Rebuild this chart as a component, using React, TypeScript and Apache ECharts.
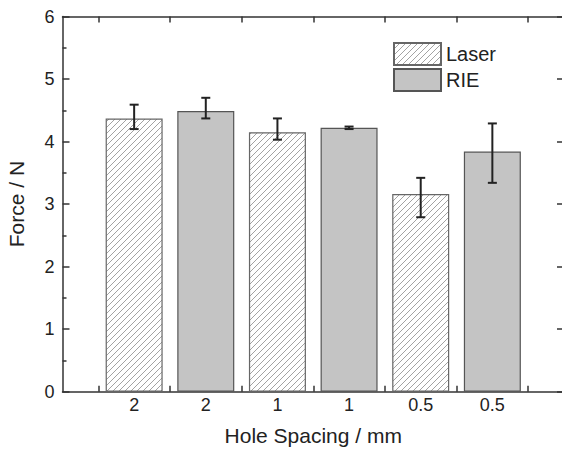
import React, { useEffect, useRef } from "react";
import * as echarts from "echarts";

const categories = ["2", "2", "1", "1", "0.5", "0.5"];
const laserValues = [4.37, 4.15, 3.16];
const laserErrLow = [4.2, 4.03, 2.79];
const laserErrHigh = [4.59, 4.37, 3.42];
const rieValues = [4.49, 4.22, 3.84];
const rieErrLow = [4.37, 4.2, 3.34];
const rieErrHigh = [4.7, 4.24, 4.29];
const yTicks = [0, 1, 2, 3, 4, 5, 6];

const FONT = "'Liberation Sans', Arial, sans-serif";

function makeHatch(): HTMLCanvasElement {
  const c = document.createElement("canvas");
  const s = 6;
  c.width = s;
  c.height = s;
  const ctx = c.getContext("2d")!;
  ctx.fillStyle = "#ffffff";
  ctx.fillRect(0, 0, s, s);
  ctx.strokeStyle = "#999999";
  ctx.lineWidth = 0.9;
  ctx.beginPath();
  ctx.moveTo(-1, s + 1);
  ctx.lineTo(s + 1, -1);
  ctx.moveTo(-1, 1);
  ctx.lineTo(1, -1);
  ctx.moveTo(s - 1, s + 1);
  ctx.lineTo(s + 1, s - 1);
  ctx.stroke();
  return c;
}

export default function App() {
  const ref = useRef<HTMLDivElement>(null);
  useEffect(() => {
    document.body.style.margin = "0";
    if (!ref.current) return;
    const chart = echarts.init(ref.current, null, { renderer: "svg" });
    const hatch = { image: makeHatch(), repeat: "repeat" } as any;

    const laserData = laserValues.map((v, i) => [2 * i + 1, v]);
    const rieData = rieValues.map((v, i) => [2 * i + 2, v]);
    const errData: number[][] = [];
    laserValues.forEach((_, i) => {
      errData.push([2 * i + 1, laserErrLow[i], laserErrHigh[i]]);
      errData.push([2 * i + 2, rieErrLow[i], rieErrHigh[i]]);
    });
    const tickPositions = categories.map((_, i) => i + 0.5).concat([categories.length + 0.5]);
    const labelPositions = categories.map((_, i) => i + 1);

    const axisLine = { show: true, onZero: false, lineStyle: { color: "#333", width: 1.5 } };
    const tickStyle = { color: "#333", width: 1.5 };

    chart.setOption({
      animation: false,
      backgroundColor: "#ffffff",
      grid: {
        left: 62.5,
        width: 501.5,
        top: 16.5,
        height: 375.2,
        containLabel: false,
        outerBoundsMode: "none",
      },
      legend: {
        orient: "vertical",
        left: 393,
        top: 42,
        padding: 0,
        itemWidth: 47,
        itemHeight: 22,
        itemGap: 2,
        icon: "rect",
        data: ["Laser", "RIE"],
        textStyle: { fontSize: 20, fontFamily: FONT, color: "#222" },
      },
      xAxis: [
        {
          type: "value",
          min: 0,
          max: categories.length + 1,
          position: "bottom",
          axisLine,
          splitLine: { show: false },
          axisTick: {
            show: true,
            inside: true,
            length: 6,
            customValues: tickPositions,
            lineStyle: tickStyle,
          },
          axisLabel: {
            show: true,
            customValues: labelPositions,
            formatter: (v: number) => categories[Math.round(v) - 1] ?? "",
            fontSize: 18,
            fontFamily: FONT,
            color: "#222",
            margin: 4,
          },
          name: "Hole Spacing / mm",
          nameLocation: "middle",
          nameGap: 33,
          nameTextStyle: { fontSize: 21, fontFamily: FONT, color: "#222" },
        },
        {
          type: "value",
          min: 0,
          max: categories.length + 1,
          position: "top",
          axisLine,
          splitLine: { show: false },
          axisTick: {
            show: true,
            inside: true,
            length: 6,
            customValues: tickPositions,
            lineStyle: tickStyle,
          },
          axisLabel: { show: false },
        },
      ],
      yAxis: [
        {
          type: "value",
          min: yTicks[0],
          max: yTicks[yTicks.length - 1],
          interval: 1,
          position: "left",
          axisLine,
          splitLine: { show: false },
          axisTick: { show: true, inside: true, length: 7, lineStyle: tickStyle },
          minorTick: { show: true, splitNumber: 2, length: 4, lineStyle: tickStyle },
          axisLabel: { fontSize: 18, fontFamily: FONT, color: "#222", margin: 8 },
          name: "Force / N",
          nameLocation: "middle",
          nameGap: 36,
          nameTextStyle: { fontSize: 21, fontFamily: FONT, color: "#222" },
        },
        {
          type: "value",
          min: yTicks[0],
          max: yTicks[yTicks.length - 1],
          interval: 1,
          position: "right",
          axisLine,
          splitLine: { show: false },
          axisTick: { show: true, inside: true, length: 7, lineStyle: tickStyle },
          minorTick: { show: false },
          axisLabel: { show: false },
        },
      ],
      series: [
        {
          name: "Laser",
          type: "bar",
          data: laserData,
          barWidth: 57,
          barGap: "-100%",
          itemStyle: { color: hatch, borderColor: "#666", borderWidth: 1.2 },
        },
        {
          name: "RIE",
          type: "bar",
          data: rieData,
          barWidth: 57,
          barGap: "-100%",
          itemStyle: { color: "#c4c4c4", borderColor: "#555", borderWidth: 1.2 },
        },
        {
          name: "err",
          type: "custom",
          data: errData,
          encode: { x: 0, y: [1, 2] },
          z: 10,
          renderItem: (params: any, api: any) => {
            const x = api.value(0);
            const lo = api.coord([x, api.value(1)]);
            const hi = api.coord([x, api.value(2)]);
            const hw = 4.5;
            const style = { stroke: "#222", lineWidth: 2 };
            return {
              type: "group",
              children: [
                { type: "line", shape: { x1: lo[0], y1: lo[1], x2: hi[0], y2: hi[1] }, style },
                { type: "line", shape: { x1: lo[0] - hw, y1: lo[1], x2: lo[0] + hw, y2: lo[1] }, style },
                { type: "line", shape: { x1: hi[0] - hw, y1: hi[1], x2: hi[0] + hw, y2: hi[1] }, style },
              ],
            };
          },
        },
      ],
    });
    return () => chart.dispose();
  }, []);
  return <div ref={ref} style={{ width: 562, height: 450 }} />;
}
